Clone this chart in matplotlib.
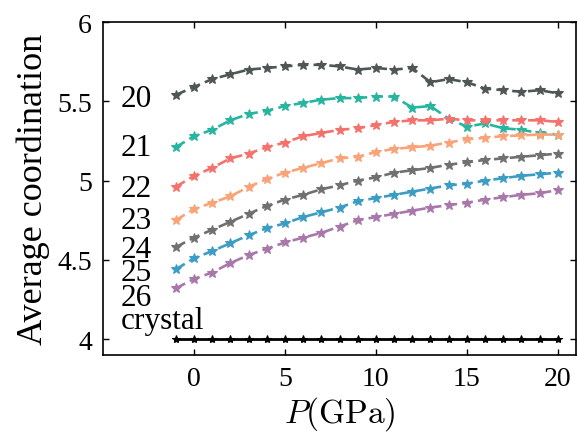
import matplotlib
matplotlib.use("Agg")
import matplotlib.pyplot as plt

# pressure grid (GPa)
P = list(range(-1, 21))

# average coordination for each system size
c20 = [5.54, 5.59, 5.64, 5.67, 5.70, 5.71, 5.72, 5.73, 5.73, 5.72, 5.70, 5.71, 5.70, 5.71,
       5.62, 5.64, 5.62, 5.58, 5.57, 5.56, 5.57, 5.55]
c21 = [5.21, 5.28, 5.32, 5.38, 5.42, 5.44, 5.47, 5.49, 5.51, 5.52, 5.52, 5.53, 5.53, 5.46,
       5.47, 5.39, 5.34, 5.36, 5.33, 5.32, 5.30, 5.29]
c22 = [4.96, 5.03, 5.08, 5.14, 5.17, 5.21, 5.24, 5.28, 5.30, 5.32, 5.33, 5.35, 5.37, 5.38,
       5.38, 5.39, 5.38, 5.38, 5.38, 5.38, 5.38, 5.37]
c23 = [4.75, 4.82, 4.86, 4.90, 4.96, 5.01, 5.05, 5.08, 5.11, 5.14, 5.15, 5.18, 5.20, 5.21,
       5.22, 5.24, 5.26, 5.27, 5.28, 5.285, 5.29, 5.29]
c24 = [4.58, 4.64, 4.69, 4.74, 4.79, 4.84, 4.88, 4.91, 4.945, 4.97, 5.00, 5.02, 5.05, 5.065,
       5.08, 5.10, 5.115, 5.13, 5.14, 5.15, 5.16, 5.17]
c25 = [4.44, 4.51, 4.555, 4.605, 4.655, 4.70, 4.73, 4.77, 4.80, 4.83, 4.87, 4.89, 4.91, 4.93,
       4.95, 4.97, 4.98, 5.00, 5.015, 5.03, 5.04, 5.05]
c26 = [4.32, 4.38, 4.42, 4.48, 4.53, 4.57, 4.61, 4.64, 4.67, 4.71, 4.75, 4.77, 4.79, 4.81,
       4.83, 4.845, 4.86, 4.88, 4.895, 4.91, 4.92, 4.94]
crystal = [4.0] * len(P)

series = [c20, c21, c22, c23, c24, c25, c26]
colors = ['#4f5656', '#28b5a0', '#f4716c', '#f9a378', '#6f7171', '#3d9cc4', '#a878ab']
labels = ['20', '21', '22', '23', '24', '25', '26', 'crystal']
label_y = [5.52, 5.21, 4.95, 4.75, 4.565, 4.42, 4.265, 4.115]

plt.rcParams['font.family'] = ['Liberation Serif', 'DejaVu Serif']
plt.rcParams['mathtext.fontset'] = 'cm'

fig = plt.figure(figsize=(5.77, 4.39), dpi=100)
ax = fig.add_axes([103 / 577, 83 / 439, 473 / 577, 333 / 439])

for y, c in zip(series, colors):
    ax.plot(P, y, color=c, lw=1.9, dashes=(4, 2), marker='*', ms=7,
            markeredgewidth=0.8)
ax.plot(P, crystal, color='black', lw=2, marker='*', ms=6, markeredgewidth=0.8)

# size labels on the left
for lab, ly in zip(labels, label_y):
    ax.text(-4.05, ly, lab, fontsize=22.5, va='center', ha='left')

ax.set_xlim(-5, 21)
ax.set_ylim(3.9, 6)
ax.set_xticks([0, 5, 10, 15, 20])
ax.set_yticks([4, 4.5, 5, 5.5, 6])
ax.set_yticklabels(['4', '4.5', '5', '5.5', '6'])
ax.tick_params(direction='in', length=4, width=1, labelsize=20, top=True, right=True, pad=8)
for s in ax.spines.values():
    s.set_linewidth(1.2)

ax.set_xlabel(r'$P(\mathrm{GPa})$', fontsize=24, labelpad=2)
ax.set_ylabel('Average coordination', fontsize=26, labelpad=5)

fig.savefig('out.png', dpi=100)
